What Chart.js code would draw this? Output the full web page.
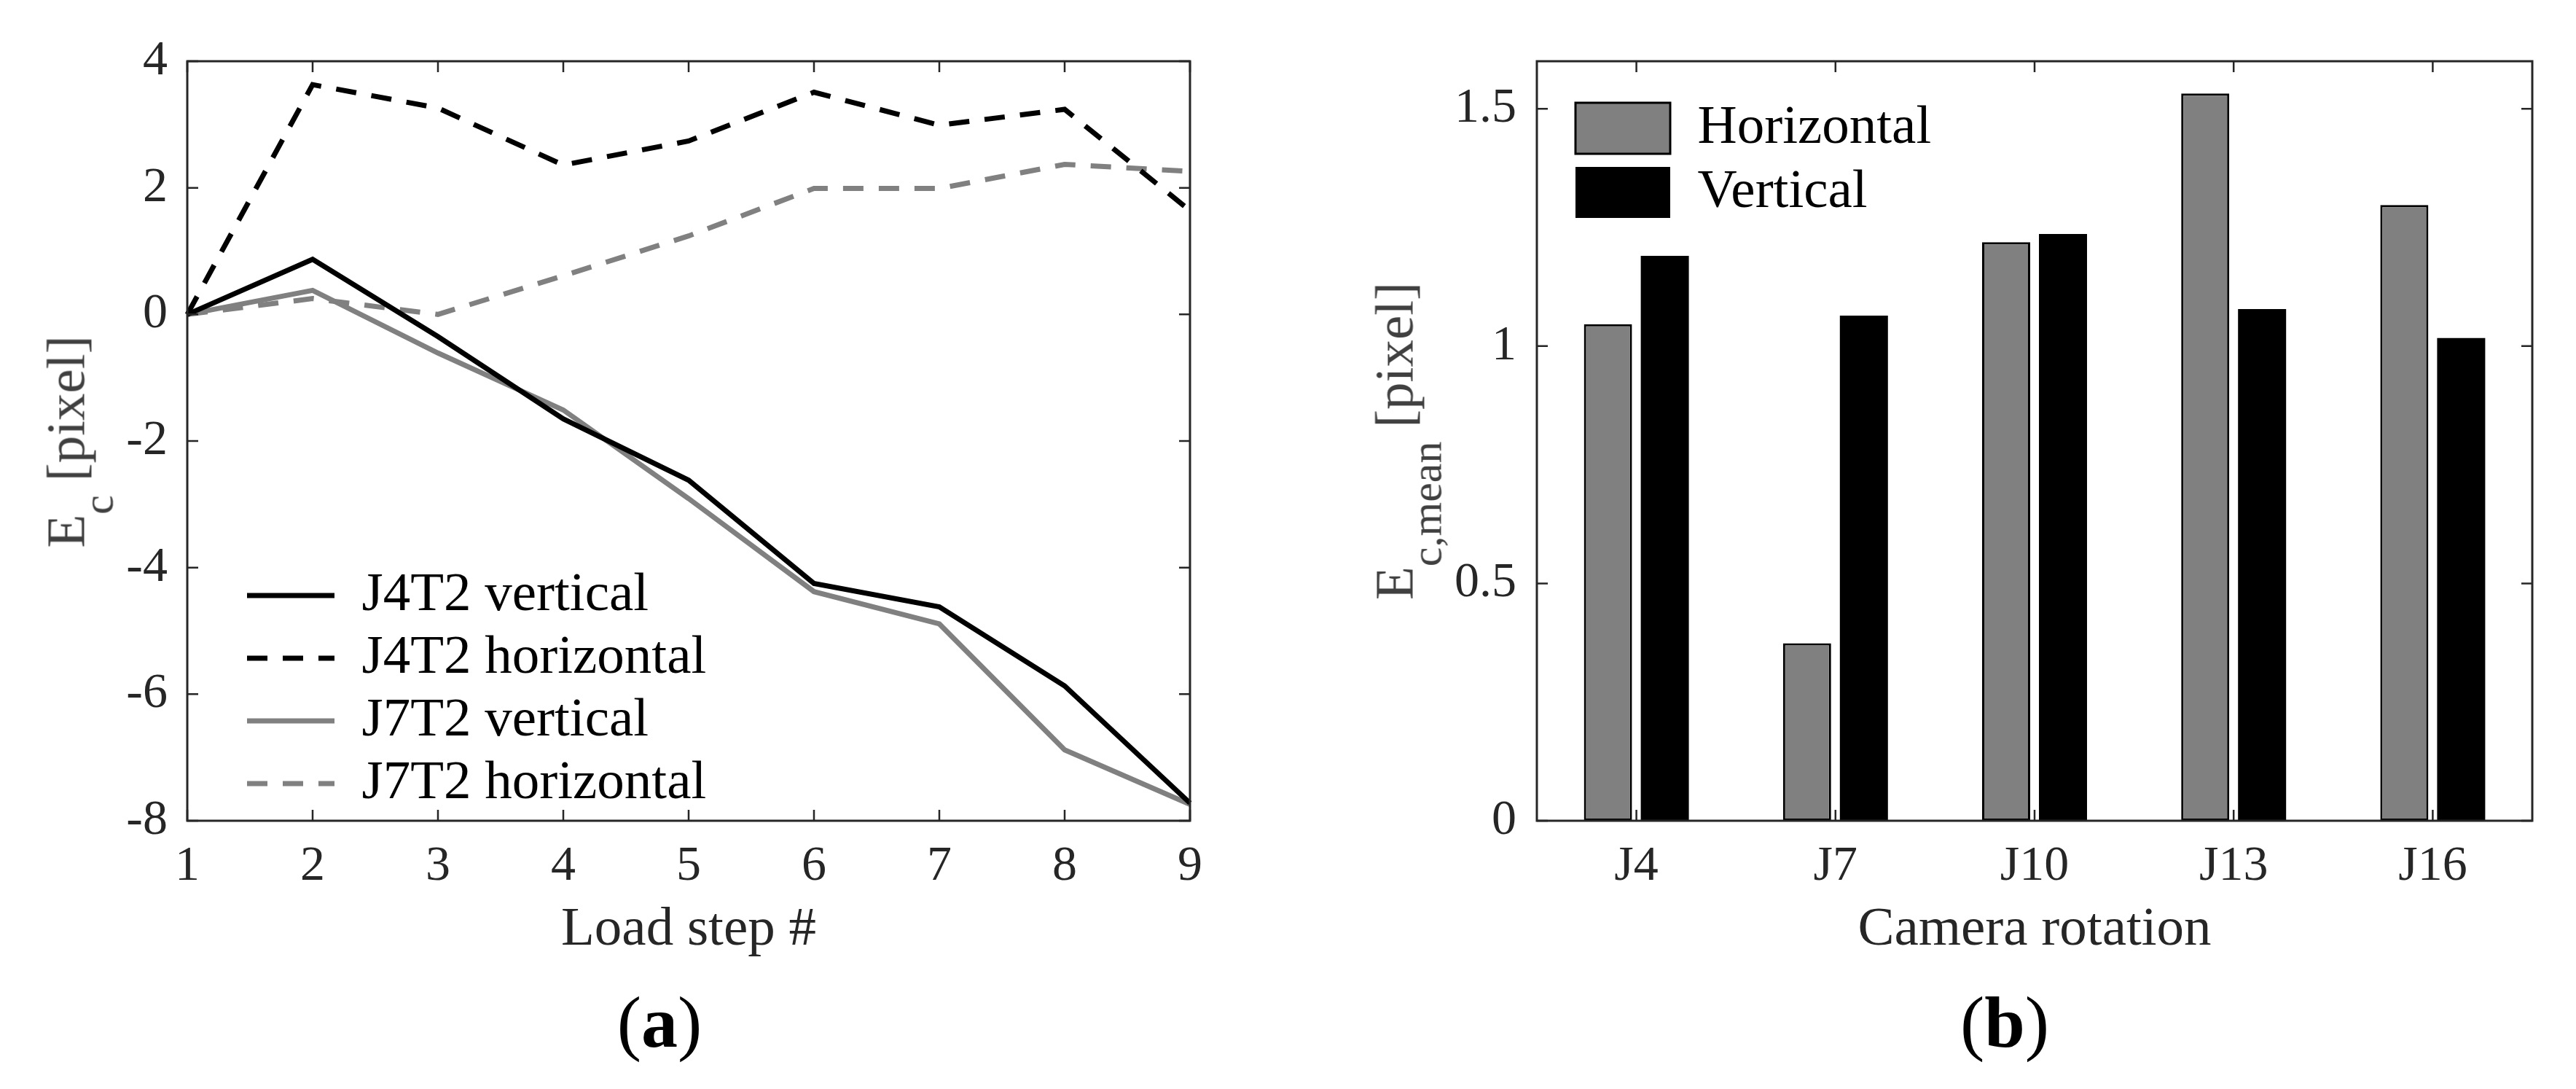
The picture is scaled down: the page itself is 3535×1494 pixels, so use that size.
<!DOCTYPE html>
<html>
<head>
<meta charset="utf-8">
<script src="https://cdn.jsdelivr.net/npm/chart.js@4.4.1/dist/chart.umd.min.js"></script>
<style>
  body { margin: 0; background: #fff; width: 3535px; height: 1494px; position: relative; overflow: hidden; font-family: "Liberation Serif", "Times New Roman", serif; }
  .panel { position: absolute; top: 0; height: 1494px; }
  #left { left: 0; width: 1767px; }
  #right { left: 1767px; width: 1768px; }
  .ytitle { position: absolute; white-space: nowrap; font-size: 75px; line-height: 75px; height: 75px; color: #404040; transform: translate(-50%, -50%) rotate(-90deg); }
  .ytitle .sub { font-size: 60px; position: relative; top: 39px; }
  .caption { position: absolute; width: 400px; text-align: center; font-size: 100px; line-height: 100px; color: #000; }
</style>
</head>
<body>
<div class="panel" id="left"><canvas id="lineChart"></canvas></div>
<div class="panel" id="right"><canvas id="barChart"></canvas></div>

<div class="ytitle" style="left:90px; top:606px;">E<span class="sub">c</span> [pixel]</div>
<div class="ytitle" style="left:1913px; top:605px;">E<span class="sub">c,mean</span> [pixel]</div>
<div class="caption" style="left:705px; top:1353px;">(<b>a</b>)</div>
<div class="caption" style="left:2551px; top:1353px;">(<b>b</b>)</div>

<script>
// (a) error per load step
const loadSteps = ["1", "2", "3", "4", "5", "6", "7", "8", "9"];
const j4t2Vertical = [0, 0.87, -0.35, -1.65, -2.62, -4.25, -4.62, -5.87, -7.72];
const j4t2Horizontal = [0, 3.63, 3.26, 2.36, 2.74, 3.51, 2.99, 3.24, 1.64];
const j7t2Vertical = [0, 0.38, -0.61, -1.51, -2.91, -4.38, -4.89, -6.88, -7.74];
const j7t2Horizontal = [0, 0.25, 0.0, 0.61, 1.24, 1.99, 1.99, 2.37, 2.26];
const leftYTicks = [-8, -6, -4, -2, 0, 2, 4];

// (b) mean error per camera rotation
const cameras = ["J4", "J7", "J10", "J13", "J16"];
const horizontalMean = [1.046, 0.374, 1.219, 1.532, 1.297];
const verticalMean = [1.190, 1.064, 1.236, 1.078, 1.017];
const rightYTicks = [0, 0.5, 1, 1.5];

const serif = "'Liberation Serif', 'Times New Roman', serif";
const axisColor = "#262626";
const gray = "#808080";

Chart.defaults.font.family = serif;
Chart.defaults.animation = false;

// box around the plot with inward ticks on all four sides
const matlabBox = {
    id: "matlabBox",
    afterDraw(chart) {
        const { ctx, chartArea: a, scales: { x, y } } = chart;
        ctx.save();
        ctx.strokeStyle = axisColor;
        ctx.lineWidth = 2.5;
        ctx.beginPath();
        x.ticks.forEach((t, i) => {
            const px = x.getPixelForTick(i);
            ctx.moveTo(px, a.bottom); ctx.lineTo(px, a.bottom - 15);
            ctx.moveTo(px, a.top); ctx.lineTo(px, a.top + 15);
        });
        y.ticks.forEach((t, i) => {
            const py = y.getPixelForTick(i);
            ctx.moveTo(a.left, py); ctx.lineTo(a.left + 15, py);
            ctx.moveTo(a.right, py); ctx.lineTo(a.right - 15, py);
        });
        ctx.stroke();
        ctx.lineWidth = 3;
        ctx.strokeRect(a.left, a.top, a.right - a.left, a.bottom - a.top);
        ctx.restore();
    }
};

// put the legend at a fixed spot inside the plot
function placeLegend(left, top) {
    return {
        id: "placeLegend",
        afterLayout(chart) {
            const lg = chart.legend;
            const w = lg.width, h = lg.height;
            lg.left = left; lg.top = top;
            lg.right = left + w; lg.bottom = top + h;
        }
    };
}

// legend samples should use the line's own dash and width
function lineLegendLabels(chart) {
    const items = Chart.defaults.plugins.legend.labels.generateLabels(chart);
    items.forEach(it => {
        const ds = chart.data.datasets[it.datasetIndex];
        it.lineDash = ds.borderDash;
        it.lineWidth = ds.borderWidth;
        it.strokeStyle = ds.borderColor;
        it.pointStyle = "line";
    });
    return items;
}

function tickFont() {
    return { size: 68, family: serif };
}

function lineSet(label, data, color, dashed) {
    return {
        label,
        data,
        borderColor: color,
        backgroundColor: color,
        borderWidth: 7,
        borderDash: dashed ? [28, 21] : [],
        pointRadius: 0,
        tension: 0,
        fill: false
    };
}

new Chart(document.getElementById("lineChart"), {
    type: "line",
    data: {
        labels: loadSteps,
        datasets: [
            lineSet("J4T2 vertical", j4t2Vertical, "#000", false),
            lineSet("J4T2 horizontal", j4t2Horizontal, "#000", true),
            lineSet("J7T2 vertical", j7t2Vertical, gray, false),
            lineSet("J7T2 horizontal", j7t2Horizontal, gray, true)
        ]
    },
    options: {
        responsive: true,
        maintainAspectRatio: false,
        events: [],
        layout: { padding: { left: 0, top: 84, right: 134, bottom: 0 } },
        plugins: {
            tooltip: { enabled: false },
            legend: {
                position: "chartArea",
                align: "start",
                labels: {
                    usePointStyle: true,
                    pointStyle: "line",
                    pointStyleWidth: 120,
                    padding: 11,
                    color: "#000",
                    font: { size: 75, family: serif },
                    generateLabels: lineLegendLabels
                }
            }
        },
        scales: {
            x: {
                type: "category",
                offset: false,
                grid: { display: false, drawTicks: false },
                border: { display: false },
                ticks: { color: axisColor, font: tickFont(), padding: 22, maxRotation: 0, autoSkip: false },
                title: {
                    display: true,
                    text: "Load step #",
                    color: axisColor,
                    font: { size: 75, family: serif },
                    padding: { top: 0, bottom: 173 }
                },
                afterFit(s) { s.height = 368; }
            },
            y: {
                min: -8,
                max: 4,
                grid: { display: false, drawTicks: false },
                border: { display: false },
                afterBuildTicks(s) { s.ticks = leftYTicks.map(v => ({ value: v })); },
                ticks: { color: axisColor, font: tickFont(), padding: 27, callback: v => String(v) },
                afterFit(s) { s.width = 257; }
            }
        }
    },
    plugins: [matlabBox, placeLegend(328, 768.5)]
});

new Chart(document.getElementById("barChart"), {
    type: "bar",
    data: {
        labels: cameras,
        datasets: [
            {
                label: "Horizontal",
                data: horizontalMean,
                backgroundColor: gray,
                borderColor: "#000",
                borderWidth: 3,
                borderSkipped: false
            },
            {
                label: "Vertical",
                data: verticalMean,
                backgroundColor: "#000",
                borderColor: "#000",
                borderWidth: 0
            }
        ]
    },
    options: {
        responsive: true,
        maintainAspectRatio: false,
        events: [],
        categoryPercentage: 0.571,
        barPercentage: 0.846,
        layout: { padding: { left: 0, top: 84, right: 60, bottom: 0 } },
        plugins: {
            tooltip: { enabled: false },
            legend: {
                position: "chartArea",
                align: "start",
                labels: {
                    boxWidth: 130,
                    boxHeight: 70,
                    padding: 13,
                    color: "#000",
                    font: { size: 75, family: serif }
                }
            }
        },
        scales: {
            x: {
                offset: true,
                grid: { display: false, drawTicks: false },
                border: { display: false },
                ticks: { color: axisColor, font: tickFont(), padding: 22, maxRotation: 0 },
                title: {
                    display: true,
                    text: "Camera rotation",
                    color: axisColor,
                    font: { size: 75, family: serif },
                    padding: { top: 0, bottom: 173 }
                },
                afterFit(s) { s.height = 368; }
            },
            y: {
                min: 0,
                max: 1.6,
                grid: { display: false, drawTicks: false },
                border: { display: false },
                afterBuildTicks(s) { s.ticks = rightYTicks.map(v => ({ value: v })); },
                ticks: { color: axisColor, font: tickFont(), padding: 28, callback: v => String(v) },
                afterFit(s) { s.width = 342; }
            }
        }
    },
    plugins: [matlabBox, placeLegend(382, 125.5)]
});
</script>
</body>
</html>
